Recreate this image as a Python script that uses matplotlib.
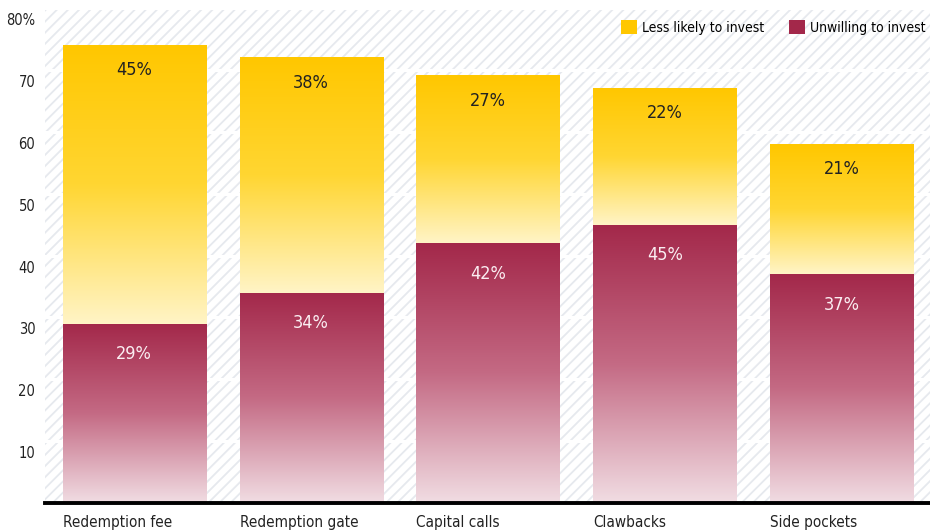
import numpy as np
import matplotlib
matplotlib.use("Agg")
import matplotlib.pyplot as plt
from matplotlib.colors import LinearSegmentedColormap
from matplotlib.patches import Rectangle, Patch
from matplotlib.transforms import ScaledTranslation

plt.rcParams['font.family'] = ['DejaVu Sans']
plt.rcParams['font.stretch'] = 'condensed'
plt.rcParams['hatch.linewidth'] = 1.3
plt.rcParams['hatch.color'] = '#e6e9ee'

categories = ['Redemption fee', 'Redemption gate', 'Capital calls', 'Clawbacks', 'Side pockets']
unwilling = [29, 34, 42, 45, 37]
less_likely = [45, 38, 27, 22, 21]
yticks = [10, 20, 30, 40, 50, 60, 70, 80]

red_top, red_bot = '#a3284a', '#f1dde3'
gold_top, gold_bot = '#ffc700', '#fff4c6'

red_cmap = LinearSegmentedColormap.from_list('red', [red_bot, '#c46a84', red_top])
gold_cmap = LinearSegmentedColormap.from_list('gold', [gold_bot, '#ffd632', gold_top])

fig = plt.figure(figsize=(9.3, 5.31), dpi=100)
ax = fig.add_axes([45 / 930, 1 - 503 / 531, 1 - 45 / 930, (503 - 8) / 531])

# hatched background
ax.patch.set_facecolor('white')
ax.add_patch(Rectangle((0, 0), 1, 1, transform=ax.transAxes, facecolor='white',
                       edgecolor='#e6e9ee', hatch='///', linewidth=0, zorder=0))

for y in yticks:
    ax.axhline(y, color='white', lw=2.2, zorder=1)

x = np.arange(len(categories))
width = 0.81
grad = np.linspace(0, 1, 256).reshape(-1, 1)

bars_bot = ax.bar(x, unwilling, width, color='none', zorder=2)
bars_top = ax.bar(x, less_likely, width, bottom=unwilling, color='none', zorder=2)

for bars, cmap in [(bars_bot, red_cmap), (bars_top, gold_cmap)]:
    for r in bars:
        x0, y0 = r.get_x(), r.get_y()
        ax.imshow(grad, cmap=cmap, origin='lower', aspect='auto', zorder=2,
                  extent=(x0, x0 + r.get_width(), y0, y0 + r.get_height()))

for i in x:
    ax.annotate(f'{unwilling[i]}%', (i, unwilling[i]), xytext=(0, -22),
                textcoords='offset points', ha='center', va='center',
                fontsize=13, color='#fbeef2', zorder=3)
    ax.annotate(f'{less_likely[i]}%', (i, unwilling[i] + less_likely[i]), xytext=(0, -18),
                textcoords='offset points', ha='center', va='center',
                fontsize=13, color='#222222', zorder=3)

ax.axhline(0, color='black', lw=2.8, zorder=4, clip_on=False)

ax.set_xlim(-0.505, len(categories) - 0.5)
ax.set_ylim(0, 80)

for s in ax.spines.values():
    s.set_visible(False)

ax.set_yticks(yticks)
ax.set_yticklabels([str(v) if v != 80 else '80%' for v in yticks])
ax.tick_params(axis='y', length=0, pad=7, labelsize=10.5, labelcolor='#222222')
for lab in ax.get_yticklabels():
    lab.set_transform(lab.get_transform() + ScaledTranslation(0, -8 / 72, fig.dpi_scale_trans))

ax.set_xticks(x - width / 2)
ax.set_xticklabels(categories, ha='left')
ax.tick_params(axis='x', length=0, pad=8.5, labelsize=11, labelcolor='#222222')

handles = [Patch(facecolor=gold_top), Patch(facecolor=red_top)]
ax.legend(handles, ['Less likely to invest', 'Unwilling to invest'], ncol=2,
          loc='upper right', bbox_to_anchor=(1.006, 0.995), frameon=False, fontsize=10,
          handlelength=1.1, handleheight=1.1, handletextpad=0.4, columnspacing=1.8,
          borderaxespad=0.4, borderpad=0.3)

fig.savefig('out.png', dpi=100)
